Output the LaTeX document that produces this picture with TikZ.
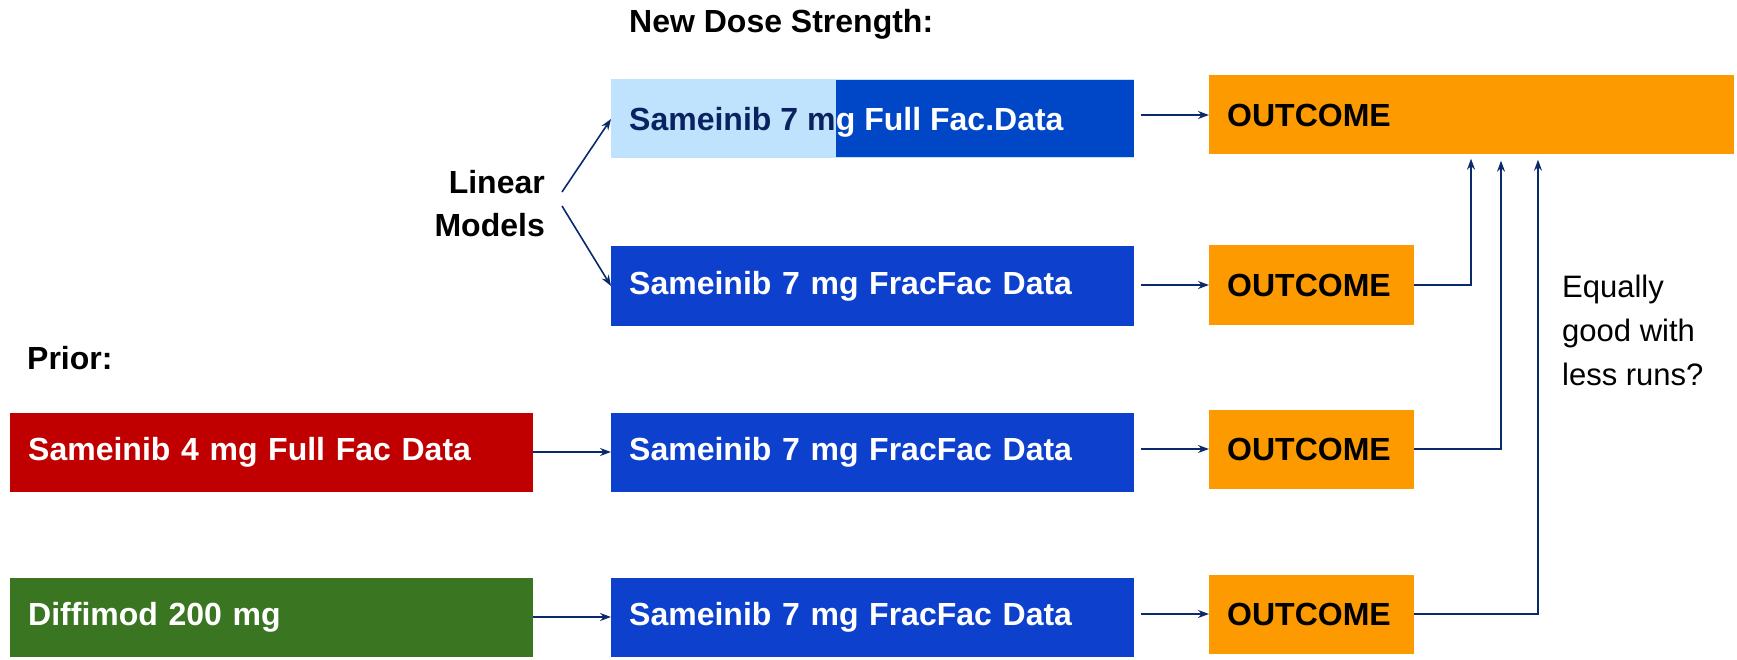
\documentclass[tikz,border=0pt]{standalone}
\usepackage{fontspec}
\setmainfont{Liberation Sans}
\usetikzlibrary{arrows.meta,calc}
\definecolor{orangeC}{HTML}{FD9A00}
\definecolor{blueC}{HTML}{0D40CC}
\definecolor{blueD}{HTML}{0047C8}
\definecolor{lightB}{HTML}{BFE3FC}
\definecolor{redC}{HTML}{C00000}
\definecolor{greenC}{HTML}{3A7521}
\definecolor{navy}{HTML}{0B2A6B}
\definecolor{navytext}{HTML}{0A2260}
\begin{document}
\begin{tikzpicture}[x=1pt,y=-1pt,
  bigfont/.style={font=\fontsize{32}{43}\selectfont\bfseries},
  box/.style={rectangle, bigfont, inner xsep=18pt, inner ysep=0pt, minimum height=79pt, align=left, text=white, anchor=west},
  widebox/.style={box, text width=487pt},
  outbox/.style={box, fill=orangeC, text=black, text width=169pt},
  conn/.style={draw=navy, line width=1.6pt, -{Stealth[length=11pt,width=8pt]}},
  lbl/.style={bigfont, text=black, inner sep=0pt}
]
\useasboundingbox (0,0) rectangle (1737,660);

% titles
\node[lbl, anchor=west] (nds) at (629,24) {New Dose Strength:};
\node[lbl, anchor=west] (prior) at (27,358) {Prior:};
\node[lbl, anchor=east, align=right] (lm) at (545,204) {Linear\\Models};

% top row (light blue with dark overlay)
\node[widebox, fill=lightB] (lb) at (611,119) {\strut};
\node[bigfont, anchor=west, inner sep=0pt, text=navytext] (t1) at (629,119) {Sameinib 7 m};
\coordinate (ovA) at ($(t1.east |- lb.north)+(0,1)$);
\coordinate (ovB) at ($(lb.south east)+(0,-2)$);
\fill[blueD] (ovA) rectangle (ovB);
\node[bigfont, anchor=base west, inner sep=0pt, text=white] (t2) at (t1.base east) {g Full Fac.Data};

% middle column
\node[widebox, fill=blueC] (b2) at (611,286) {Sameinib 7 mg FracFac Data};
\node[widebox, fill=blueC] (b3) at (611,452) {Sameinib 7 mg FracFac Data};
\node[widebox, fill=blueC] (b4) at (611,617) {Sameinib 7 mg FracFac Data};

% prior column
\node[widebox, fill=redC] (p1) at (10,452) {Sameinib 4 mg Full Fac Data};
\node[widebox, fill=greenC] (p2) at (10,617) {Diffimod 200 mg};

% outcomes
\node[box, fill=orangeC, text=black, text width=489pt] (o1) at (1209,115) {OUTCOME};
\node[outbox] (o2) at (1209,285) {OUTCOME};
\node[outbox] (o3) at (1209,449) {OUTCOME};
\node[outbox] (o4) at (1209,614) {OUTCOME};

% side note
\node[anchor=west, align=left, inner sep=0pt, font=\fontsize{31}{44}\selectfont] (note) at (1562,330) {Equally\\good with\\less runs?};

% connectors
\coordinate (lmA) at (562,192);
\coordinate (lmB) at (562,206);
\draw[conn] (lmA) -- (lb.west);
\draw[conn] (lmB) -- (b2.west);

\draw[conn, shorten <=7pt] (lb.east |- o1.west) -- (o1.west);
\draw[conn, shorten <=7pt] (b2.east |- o2.west) -- (o2.west);
\draw[conn, shorten <=7pt] (b3.east |- o3.west) -- (o3.west);
\draw[conn, shorten <=7pt] (b4.east |- o4.west) -- (o4.west);

\draw[conn] (p1.east) -- (b3.west);
\draw[conn] (p2.east) -- (b4.west);

\draw[conn, shorten >=4pt] (o2.east) -| ($(o1.south west)+(262,0)$);
\draw[conn, shorten >=6pt] (o3.east) -| ($(o1.south west)+(292,0)$);
\draw[conn, shorten >=5pt] (o4.east) -| ($(o1.south west)+(329,0)$);
\end{tikzpicture}
\end{document}
